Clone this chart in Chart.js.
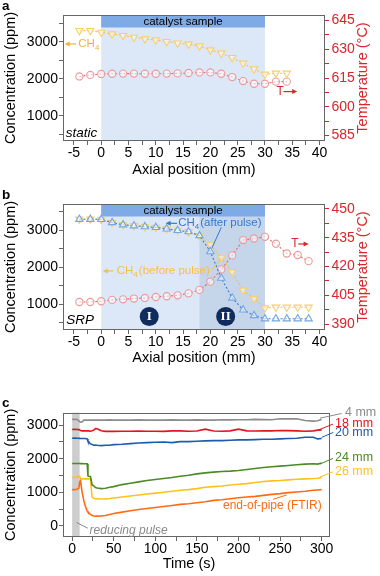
<!DOCTYPE html>
<html lang="en">
<head>
<meta charset="UTF-8">
<title>CH4 axial profiles</title>
<script src="https://cdn.jsdelivr.net/npm/chart.js@4"></script>
<style>
    body { margin: 0; background: #fff; width: 380px; height: 576px; position: relative; overflow: hidden; }
    canvas { position: absolute; left: 0; }
</style>
</head>
<body>
<canvas id="chartA" width="380" height="190" style="top:0"></canvas>
<canvas id="chartB" width="380" height="185" style="top:190px"></canvas>
<canvas id="chartC" width="380" height="186" style="top:390px"></canvas>

<script>
// ---- data ----
// panel a (static)
const posA = [-4, -2, 0, 2, 4, 6, 8, 10, 12, 14, 16, 18, 20, 22, 24, 26, 28, 30, 32, 34];
const ch4A = [3298, 3298, 3253, 3208, 3163, 3118, 3073, 3046, 3001, 2960, 2930, 2884, 2776, 2686, 2568, 2416, 2262, 2119, 2146, 2146];
const tempA = [615.8, 616.6, 617.1, 617.2, 617.3, 617.3, 617.2, 617.2, 617.3, 617.4, 617.6, 617.9, 617.9, 617.2, 615.5, 613.4, 612.0, 612.0, 613.1, 613.1];

// panel b (SRP)
const posB = [-4, -2, 0, 2, 4, 6, 8, 10, 12, 14, 16, 18, 20, 22, 24, 26, 28, 30, 32, 34, 36, 38];
const ch4AfterB = [3290, 3290, 3285, 3200, 3140, 3115, 3090, 3070, 3030, 2990, 2955, 2850, 2417, 1702, 1170, 849, 697, 610, 610, 610, 610, 610];
const ch4BeforeB = [3290, 3290, 3285, 3200, 3140, 3115, 3090, 3070, 3030, 2990, 2955, 2850, 2600, 2250, 1870, 1380, 1150, 900, 920, 920, 920, 920];
const tempB = [401.5, 401.5, 401.9, 402.6, 402.9, 403.3, 403.6, 404.1, 404.5, 405.0, 406.0, 407.8, 412.1, 418.5, 425.8, 433.8, 434.6, 435.5, 431.9, 426.8, 426.0, 422.8];

// panel c (time series)
const timeC = [0, 3, 6, 8, 9, 10, 12, 14, 16, 18, 19, 20, 22, 24, 26, 28, 30, 35, 40, 45, 50, 60, 70, 80, 90, 100, 110, 120, 130, 140, 150, 160, 170, 180, 190, 200, 210, 220, 230, 240, 250, 260, 270, 280, 290, 295, 300];
const mm4 = [3170, 3175, 3170, 3130, 3100, 3090, 3095, 3150, 3150, 3150, 3150, 3150, 3150, 3150, 3150, 3150, 3150, 3150, 3150, 3155, 3150, 3150, 3150, 3155, 3150, 3150, 3150, 3155, 3150, 3150, 3155, 3150, 3150, 3160, 3155, 3160, 3160, 3170, 3165, 3160, 3190, 3185, 3190, 3140, 3120, 3130, 3170];
const mm18 = [2870, 2875, 2870, 2865, 2860, 2840, 2830, 2830, 2830, 2830, 2830, 2830, 2820, 2830, 2850, 2895, 2890, 2830, 2815, 2815, 2815, 2820, 2820, 2825, 2820, 2820, 2815, 2830, 2830, 2820, 2825, 2880, 2825, 2820, 2830, 2880, 2830, 2825, 2830, 2830, 2840, 2835, 2830, 2820, 2830, 2850, 2860];
const mm20 = [2610, 2615, 2610, 2610, 2605, 2600, 2600, 2600, 2600, 2590, 2520, 2500, 2440, 2420, 2400, 2410, 2400, 2390, 2400, 2400, 2420, 2430, 2450, 2470, 2480, 2490, 2500, 2480, 2510, 2510, 2520, 2530, 2540, 2540, 2550, 2560, 2560, 2570, 2580, 2580, 2590, 2600, 2610, 2640, 2640, 2590, 2600];
const mm24 = [1860, 1860, 1860, 1860, 1860, 1855, 1855, 1850, 1850, 1850, 1490, 1480, 1470, 1220, 1190, 1140, 1130, 1110, 1120, 1150, 1170, 1230, 1270, 1310, 1350, 1380, 1410, 1440, 1480, 1510, 1550, 1580, 1600, 1620, 1630, 1650, 1680, 1710, 1740, 1760, 1780, 1800, 1820, 1840, 1850, 1840, 1870];
const mm26 = [1440, 1440, 1460, 1480, 1480, 1400, 1400, 1400, 1400, 1400, 1400, 1400, 1390, 850, 820, 810, 810, 800, 805, 815, 830, 860, 890, 920, 950, 975, 1000, 1030, 1060, 1080, 1110, 1150, 1170, 1190, 1220, 1240, 1260, 1290, 1320, 1340, 1350, 1370, 1390, 1400, 1410, 1420, 1440];
const ftir = [1080, 1080, 1090, 1120, 1300, 1360, 1000, 760, 580, 450, 410, 390, 340, 310, 295, 290, 290, 295, 310, 340, 370, 410, 450, 490, 520, 550, 580, 610, 640, 660, 690, 720, 760, 780, 810, 840, 860, 880, 910, 940, 960, 990, 1010, 1030, 1060, 1070, 1080];

// tick labels
const axialTicks = [-5, 0, 5, 10, 15, 20, 25, 30, 35, 40];
const concTicks = [1000, 2000, 3000];
const tempTicksA = [585, 600, 615, 630, 645];
const tempTicksB = [390, 405, 420, 435, 450];
const timeTicks = [0, 50, 100, 150, 200, 250, 300];
const concTicksC = [0, 1000, 2000, 3000];

// ---- style ----
const FONT = "'Liberation Sans', Arial, sans-serif";
Chart.defaults.font.family = FONT;
Chart.defaults.animation = false;
Chart.defaults.plugins.legend.display = false;
Chart.defaults.plugins.tooltip.enabled = false;

const YEL = '#f4c04a', YEL_PT = '#f7cf6a', YEL_TXT = '#f3b431';
const RED = '#e06a6a', RED_PT = '#ec9a9a', RED_TXT = '#d8262a';
const BLU = '#3d7bd0', BLU_PT = '#73a6e2', BLU_TXT = '#3a78c8';
const AXIS = '#666';

function pts(xs, ys) { return xs.map((x, i) => ({ x: x, y: ys[i] })); }

// major ticks + one minor tick between each pair
function minorTicks(majors) {
    return scale => {
        const half = (majors[1] - majors[0]) / 2;
        const vals = [];
        for (let v = majors[0] - half; v <= majors[majors.length - 1] + half + 1e-9; v += half) {
            if (v >= scale.min && v <= scale.max) vals.push(v);
        }
        scale.ticks = vals.map(v => ({ value: v }));
    };
}

function xAxis(min, max, majors, title, height, padBottom) {
    return {
        type: 'linear', min: min, max: max,
        afterBuildTicks: minorTicks(majors),
        afterFit: s => { s.height = height; },
        ticks: { autoSkip: false, maxRotation: 0, padding: 0, color: '#000', font: { size: 14 },
                 callback: v => majors.includes(v) ? String(v) : '' },
        grid: { drawOnChartArea: false, tickLength: 4, color: AXIS },
        border: { display: false },
        title: { display: !!title, text: title, color: '#000', font: { size: 14.5 }, padding: { top: 0, bottom: padBottom } }
    };
}

function leftAxis(min, max, majors) {
    return {
        type: 'linear', position: 'left', min: min, max: max,
        afterBuildTicks: minorTicks(majors),
        afterFit: s => { s.width = 63; },
        ticks: { autoSkip: false, padding: 1, color: '#000', font: { size: 14 },
                 callback: v => majors.includes(v) ? String(v) : '' },
        grid: { drawOnChartArea: false, tickLength: 4, color: AXIS },
        border: { display: false },
        title: { display: true, text: 'Concentration (ppm)', color: '#000', font: { size: 14.5 }, padding: { top: 2.3, bottom: 0 } }
    };
}

function rightAxis(min, max, majors) {
    return {
        type: 'linear', position: 'right', min: min, max: max,
        afterBuildTicks: minorTicks(majors),
        afterFit: s => { s.width = 55; },
        ticks: { autoSkip: false, padding: 2.5, color: RED_TXT, font: { size: 14 },
                 callback: v => majors.includes(v) ? String(v) : '' },
        grid: { drawOnChartArea: false, tickLength: 4, color: RED_TXT },
        border: { display: false }
    };
}

// ---- drawing helpers ----
function text(ctx, s, x, y, color, size, style, align, family) {
    ctx.save();
    ctx.font = (style || '') + ' ' + size + 'px ' + (family || FONT);
    ctx.fillStyle = color;
    ctx.textAlign = align || 'left';
    ctx.textBaseline = 'middle';
    ctx.fillText(s, x, y);
    ctx.restore();
}

function arrow(ctx, x0, x1, y, color) {
    const d = Math.sign(x1 - x0);
    ctx.save();
    ctx.strokeStyle = color; ctx.fillStyle = color; ctx.lineWidth = 1.2;
    ctx.beginPath(); ctx.moveTo(x0, y); ctx.lineTo(x1 - d * 3, y); ctx.stroke();
    ctx.beginPath(); ctx.moveTo(x1, y); ctx.lineTo(x1 - d * 5, y - 2.5); ctx.lineTo(x1 - d * 5, y + 2.5); ctx.closePath(); ctx.fill();
    ctx.restore();
}

function line(ctx, x0, y0, x1, y1, color) {
    ctx.save();
    ctx.strokeStyle = color; ctx.lineWidth = 1;
    ctx.beginPath(); ctx.moveTo(x0, y0); ctx.lineTo(x1, y1); ctx.stroke();
    ctx.restore();
}

function ch4(ctx, x, y, color, rest) {
    ctx.save();
    ctx.fillStyle = color; ctx.textBaseline = 'middle'; ctx.textAlign = 'left';
    ctx.font = '11.5px ' + FONT;
    ctx.fillText('CH', x, y);
    let w = ctx.measureText('CH').width;
    ctx.font = '8px ' + FONT;
    ctx.fillText('4', x + w, y + 3.5);
    w += ctx.measureText('4').width;
    if (rest) { ctx.font = '11.5px ' + FONT; ctx.fillText(rest, x + w + 1, y); }
    ctx.restore();
}

function frame(chart) {
    const a = chart.chartArea, ctx = chart.ctx;
    ctx.save();
    ctx.strokeStyle = AXIS; ctx.lineWidth = 1;
    ctx.strokeRect(Math.round(a.left) + 0.5, Math.round(a.top) + 0.5, Math.round(a.right - a.left) - 1, Math.round(a.bottom - a.top) - 1);
    ctx.restore();
}

function tempTitle(chart) {
    const a = chart.chartArea, ctx = chart.ctx;
    ctx.save();
    ctx.translate(362.5, (a.top + a.bottom) / 2);
    ctx.rotate(-Math.PI / 2);
    ctx.font = '14.5px ' + FONT; ctx.fillStyle = RED_TXT;
    ctx.textAlign = 'center'; ctx.textBaseline = 'middle';
    ctx.fillText('Temperature (\u00B0C)', 0, 0);
    ctx.restore();
}

function letter(ctx, s, baseline) {
    ctx.save();
    ctx.font = 'bold 13.5px ' + FONT; ctx.fillStyle = '#000';
    ctx.textBaseline = 'alphabetic';
    ctx.fillText(s, 2, baseline);
    ctx.restore();
}

function sample(chart, split) {
    const ctx = chart.ctx, a = chart.chartArea, x = chart.scales.x;
    const x0 = x.getPixelForValue(0), x30 = x.getPixelForValue(30);
    ctx.save();
    ctx.fillStyle = '#dce8f8';
    ctx.fillRect(x0, a.top, x30 - x0, a.bottom - a.top);
    if (split !== undefined) {
        const xs = x.getPixelForValue(split);
        ctx.fillStyle = '#c5d5ea';
        ctx.fillRect(xs, a.top, x30 - xs, a.bottom - a.top);
    }
    ctx.fillStyle = '#7eaae6';
    ctx.fillRect(x0, a.top, x30 - x0, 12.5);
    ctx.restore();
    text(ctx, 'catalyst sample', x.getPixelForValue(15), a.top + 6.8, '#000', 11.5, '', 'center');
}

function badge(ctx, cx, cy, s) {
    ctx.save();
    ctx.beginPath(); ctx.arc(cx, cy, 9.5, 0, Math.PI * 2);
    ctx.fillStyle = '#0f2c5c'; ctx.fill();
    ctx.restore();
    text(ctx, s, cx, cy + 0.5, '#fff', 13, 'bold', 'center', "'Liberation Serif', serif");
}

function dotted(label, data, lineColor, ptColor, style, rot, r, order) {
    return {
        label: label, data: data, order: order,
        borderColor: lineColor, borderWidth: 1.1, borderDash: [2, 2],
        pointStyle: style, pointRotation: rot, pointRadius: r,
        pointBorderColor: ptColor, pointBorderWidth: 1.1, pointBackgroundColor: 'rgba(255,255,255,0.55)'
    };
}

// ---- panel a ----
new Chart(document.getElementById('chartA'), {
    type: 'line',
    data: { datasets: [
        dotted('CH4', pts(posA, ch4A), YEL, YEL_PT, 'triangle', 180, 4.2, 1),
        Object.assign(dotted('T', pts(posA, tempA), RED, RED_PT, 'circle', 0, 3.6, 2), { yAxisID: 'y2' })
    ] },
    options: {
        responsive: false,
        layout: { padding: { top: 15, left: 0, right: 0, bottom: 0 } },
        scales: {
            x: xAxis(-7, 41, axialTicks, 'Axial position (mm)', 49, 11.3),
            y: leftAxis(316, 3720, concTicks),
            y2: rightAxis(582.2, 647.8, tempTicksA)
        }
    },
    plugins: [{
        id: 'panelA',
        beforeDatasetsDraw(chart) { sample(chart); },
        afterDatasetsDraw(chart) {
            const ctx = chart.ctx, x = chart.scales.x, y = chart.scales.y;
            frame(chart);
            const yc = y.getPixelForValue(2938);
            arrow(ctx, x.getPixelForValue(-4.6), x.getPixelForValue(-6.7), yc, YEL_TXT);
            ch4(ctx, x.getPixelForValue(-4.2), yc, YEL_TXT);
            const yt = y.getPixelForValue(1650);
            text(ctx, 'T', x.getPixelForValue(32.1), yt, RED_TXT, 12);
            arrow(ctx, x.getPixelForValue(33.4), x.getPixelForValue(35.9), yt, RED_TXT);
            text(ctx, 'static', x.getPixelForValue(-6.5), y.getPixelForValue(524), '#000', 13.5, 'italic');
            tempTitle(chart);
            letter(ctx, 'a', 10);
        }
    }]
});

// ---- panel b ----
new Chart(document.getElementById('chartB'), {
    type: 'line',
    data: { datasets: [
        dotted('CH4 (after pulse)', pts(posB, ch4AfterB), BLU, BLU_PT, 'triangle', 0, 4.2, 1),
        dotted('CH4 (before pulse)', pts(posB, ch4BeforeB), YEL, YEL_PT, 'triangle', 180, 4.2, 2),
        Object.assign(dotted('T', pts(posB, tempB), RED, RED_PT, 'circle', 0, 3.6, 3), { yAxisID: 'y2' })
    ] },
    options: {
        responsive: false,
        layout: { padding: { top: 14, left: 0, right: 0, bottom: 0 } },
        scales: {
            x: xAxis(-7, 41, axialTicks, 'Axial position (mm)', 45, 8),
            y: leftAxis(308, 3700, concTicks),
            y2: rightAxis(386.9, 452.6, tempTicksB)
        }
    },
    plugins: [{
        id: 'panelB',
        beforeDatasetsDraw(chart) {
            sample(chart, 18);
            const ctx = chart.ctx, x = chart.scales.x, y = chart.scales.y;
            badge(ctx, x.getPixelForValue(8.8), y.getPixelForValue(669), 'I');
            badge(ctx, x.getPixelForValue(22.8), y.getPixelForValue(669), 'II');
        },
        afterDatasetsDraw(chart) {
            const ctx = chart.ctx, x = chart.scales.x, y = chart.scales.y;
            frame(chart);
            // CH4 after pulse
            const ya = y.getPixelForValue(3180);
            arrow(ctx, x.getPixelForValue(13.9), x.getPixelForValue(11.8), ya, BLU_TXT);
            ch4(ctx, x.getPixelForValue(14.1), ya, BLU_TXT, '(after pulse)');
            line(ctx, x.getPixelForValue(22.0), y.getPixelForValue(3070), x.getPixelForValue(20.3), y.getPixelForValue(2520), BLU_TXT);
            // CH4 before pulse
            const yb = y.getPixelForValue(1898);
            arrow(ctx, x.getPixelForValue(2.2), x.getPixelForValue(0.3), yb, YEL);
            ch4(ctx, x.getPixelForValue(2.85), yb, YEL, '(before pulse)');
            line(ctx, x.getPixelForValue(20.3), y.getPixelForValue(1940), x.getPixelForValue(22.0), y.getPixelForValue(2240), YEL);
            // T
            const yt = y.getPixelForValue(2624);
            text(ctx, 'T', x.getPixelForValue(34.8), yt, RED_TXT, 12);
            arrow(ctx, x.getPixelForValue(36.1), x.getPixelForValue(38.0), yt, RED_TXT);
            text(ctx, 'SRP', x.getPixelForValue(-6.4), y.getPixelForValue(580), '#000', 13.5, 'italic');
            tempTitle(chart);
            letter(ctx, 'b', 8.5);
        }
    }]
});

// ---- panel c ----
function trace(label, ys, color) {
    return { label: label, data: pts(timeC, ys), borderColor: color, borderWidth: 1.6, pointRadius: 0, tension: 0 };
}

const C_GREY = '#8c8c8c', C_RED = '#e0161c', C_BLUE = '#1d5caa', C_GREEN = '#4b8a26', C_YEL = '#ffc11c', C_ORG = '#ff6b12';

new Chart(document.getElementById('chartC'), {
    type: 'line',
    data: { datasets: [
        trace('4 mm', mm4, C_GREY),
        trace('18 mm', mm18, C_RED),
        trace('20 mm', mm20, C_BLUE),
        trace('24 mm', mm24, C_GREEN),
        trace('26 mm', mm26, C_YEL),
        trace('end-of-pipe (FTIR)', ftir, C_ORG)
    ] },
    options: {
        responsive: false,
        layout: { padding: { top: 22.7, left: 0, right: 50, bottom: 0 } },
        scales: {
            x: xAxis(-11, 310, timeTicks, '', 39, 0),
            y: leftAxis(-330, 3370, concTicksC)
        }
    },
    plugins: [{
        id: 'panelC',
        beforeDatasetsDraw(chart) {
            const ctx = chart.ctx, a = chart.chartArea, x = chart.scales.x;
            const x0 = x.getPixelForValue(0), x9 = x.getPixelForValue(9);
            ctx.save();
            ctx.fillStyle = '#cdcdcd';
            ctx.fillRect(x0, a.top, x9 - x0, a.bottom - a.top);
            ctx.restore();
        },
        afterDatasetsDraw(chart) {
            const ctx = chart.ctx, x = chart.scales.x, y = chart.scales.y;
            frame(chart);
            const X = v => x.getPixelForValue(v), Y = v => y.getPixelForValue(v);
            const labels = [
                ['4 mm', C_GREY, 298, 3208, 324, 3347, 328, 3377],
                ['18 mm', C_RED, 295.5, 2851, 313.6, 3030, 316, 3050],
                ['20 mm', C_BLUE, 300, 2635, 314, 2783, 316, 2771],
                ['24 mm', C_GREEN, 298, 1842, 313.6, 2011, 316, 2041],
                ['26 mm', C_YEL, 298, 1456, 313.6, 1613, 316, 1613]
            ];
            labels.forEach(l => {
                line(ctx, X(l[2]), Y(l[3]), X(l[4]), Y(l[5]), l[1]);
                text(ctx, l[0], X(l[6]), Y(l[7]), l[1], 12.5);
            });
            line(ctx, X(241.7), Y(793), X(257.8), Y(921), C_ORG);
            text(ctx, 'end-of-pipe (FTIR)', X(300), Y(594), C_ORG, 12, '', 'right');
            line(ctx, X(5.5), Y(98), X(18.8), Y(-68), '#8a8a8a');
            text(ctx, 'reducing pulse', X(21), Y(-139), '#8a8a8a', 12, 'italic');
            const a = chart.chartArea;
            text(ctx, 'Time (s)', 189, 174, '#000', 14.5, '', 'center');
            letter(ctx, 'c', 16.7);
        }
    }]
});
</script>
</body>
</html>
